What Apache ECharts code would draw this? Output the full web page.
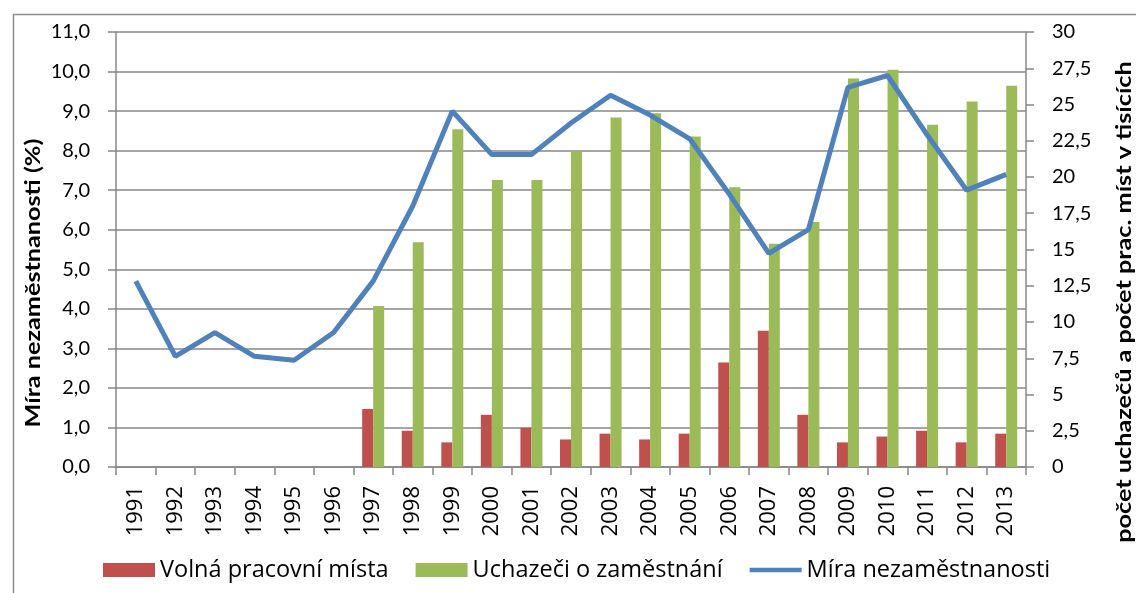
<!DOCTYPE html>
<html>
<head>
<meta charset="utf-8">
<title>Míra nezaměstnanosti</title>
<script src="https://cdn.jsdelivr.net/npm/echarts@6/dist/echarts.min.js"></script>
<style>
    html, body { margin:0; padding:0; background:#fff; }
    #chart { width:1136px; height:593px; }
</style>
</head>
<body>
<div id="chart"></div>
<script>
// roky
var years = ['1991','1992','1993','1994','1995','1996','1997','1998','1999','2000','2001','2002',
    '2003','2004','2005','2006','2007','2008','2009','2010','2011','2012','2013'];
// volná pracovní místa (tis.)
var volnaMista = [null,null,null,null,null,null,4.0,2.5,1.7,3.6,2.7,1.9,2.3,1.9,2.3,7.2,9.4,3.6,1.7,2.1,2.5,1.7,2.3];
// uchazeči o zaměstnání (tis.)
var uchazeci = [null,null,null,null,null,null,11.1,15.5,23.3,19.8,19.8,21.8,24.1,24.4,22.8,19.3,15.4,16.9,26.8,27.4,23.6,25.2,26.3];
// míra nezaměstnanosti (%)
var mira = [4.7,2.8,3.4,2.8,2.7,3.4,4.7,6.6,9.0,7.9,7.9,8.7,9.4,8.9,8.3,6.9,5.4,6.0,9.6,9.9,8.4,7.0,7.4];

var FONT = 'Lato';
var FONT2 = 'Open Sans';
var GRAY = '#878787';

var chart = echarts.init(document.getElementById('chart'), null, {renderer:'canvas'});
var option = {
    animation:false,
    backgroundColor:'#fff',
    textStyle:{fontFamily:FONT},
    grid:{left:116, right:110, top:32, bottom:126, containLabel:false},
    legend:{
        left:103, top:558, padding:0,
        itemWidth:52, itemHeight:14, itemGap:27,
        textStyle:{fontFamily:FONT2, fontSize:23.5, color:'#000'},
        data:[
            {name:'Volná pracovní místa', icon:'rect'},
            {name:'Uchazeči o zaměstnání', icon:'rect'},
            // jen čára, bez kolečka
            {name:'Míra nezaměstnanosti', icon:'path://M0,0 L52,0 L52,4.5 L0,4.5 Z'}
        ]
    },
    xAxis:{
        type:'category',
        data:years,
        boundaryGap:true,
        axisLine:{lineStyle:{color:GRAY, width:1.5}},
        axisTick:{show:true, length:8, lineStyle:{color:GRAY, width:1.5}},
        axisLabel:{interval:0, rotate:90, margin:19, fontSize:22, color:'#000', fontFamily:FONT2}
    },
    yAxis:[
        {
            type:'value', min:0, max:11, interval:1,
            axisLine:{show:true, lineStyle:{color:GRAY, width:1.5}},
            axisTick:{show:true, length:8, lineStyle:{color:GRAY, width:1.5}},
            splitLine:{show:true, lineStyle:{color:GRAY, width:1.5}},
            axisLabel:{margin:26, fontSize:20, color:'#000', fontFamily:FONT,
                formatter:function(v){ return v.toFixed(1).replace('.', ','); }}
        },
        {
            type:'value', min:0, max:30, interval:2.5, position:'right',
            axisLine:{show:true, lineStyle:{color:GRAY, width:1.5}},
            axisTick:{show:true, length:8, lineStyle:{color:GRAY, width:1.5}},
            splitLine:{show:false},
            axisLabel:{margin:26, fontSize:20, color:'#000', fontFamily:FONT,
                formatter:function(v){ return String(v).replace('.', ','); }}
        }
    ],
    series:[
        {
            name:'Volná pracovní místa', type:'bar', yAxisIndex:1,
            data:volnaMista, barWidth:11, barGap:'0%',
            itemStyle:{color:'#C0504D'}
        },
        {
            name:'Uchazeči o zaměstnání', type:'bar', yAxisIndex:1,
            data:uchazeci, barWidth:11, barGap:'0%',
            itemStyle:{color:'#9BBB59'}
        },
        {
            name:'Míra nezaměstnanosti', type:'line', yAxisIndex:0,
            data:mira, symbol:'none', z:5,
            lineStyle:{color:'#4F81BD', width:5},
            itemStyle:{color:'#4F81BD'}
        }
    ],
    graphic:[
        // rámeček grafu
        {type:'rect', left:11, top:12, silent:true, z:-1,
            shape:{width:1200, height:700},
            style:{fill:null, stroke:'#8c8c8c', lineWidth:1.5}},
        // popisek levé osy (text je v originále roztažený)
        {type:'text', x:33, y:283, rotation:Math.PI/2, scaleX:1.2,
            style:{text:'Míra nezaměstnanosti (%)', fontFamily:FONT, fontWeight:'bold', fontSize:21, fill:'#000',
                align:'center', verticalAlign:'middle'}},
        // popisek pravé osy
        {type:'text', x:1124, y:302, rotation:Math.PI/2, scaleX:1.2,
            style:{text:'počet uchazečů a počet prac. míst v tisících', fontFamily:FONT, fontWeight:'bold', fontSize:21, fill:'#000',
                align:'center', verticalAlign:'middle'}}
    ]
};
chart.setOption(option);
</script>
</body>
</html>
